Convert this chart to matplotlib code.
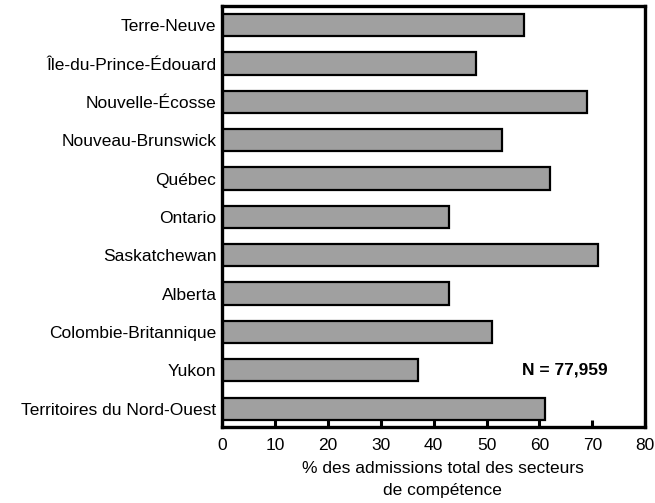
import matplotlib.pyplot as plt
import numpy as np

plt.rcParams["font.family"] = ["Liberation Sans", "DejaVu Sans"]

provinces = [
    "Terre-Neuve",
    "Île-du-Prince-Édouard",
    "Nouvelle-Écosse",
    "Nouveau-Brunswick",
    "Québec",
    "Ontario",
    "Saskatchewan",
    "Alberta",
    "Colombie-Britannique",
    "Yukon",
    "Territoires du Nord-Ouest",
]
pct_admissions = [57, 48, 69, 53, 62, 43, 71, 43, 51, 37, 61]
x_ticks = [0, 10, 20, 30, 40, 50, 60, 70, 80]
n_label = "N = 77,959"

fig = plt.figure(figsize=(6.55, 5.03), dpi=100)
ax = fig.add_axes([0.339, 0.151, 0.646, 0.837])

y = np.arange(len(provinces))
ax.barh(y, pct_admissions, height=0.58, color="#a0a0a0",
        edgecolor="black", linewidth=1.6)

ax.set_yticks(y)
ax.set_yticklabels(provinces, fontsize=12.5)
ax.set_ylim(10.48, -0.5)
ax.set_xlim(0, 80)
ax.set_xticks(x_ticks)
ax.set_xticklabels([str(t) for t in x_ticks], fontsize=12.5)

ax.tick_params(axis="y", length=0, pad=4)
ax.tick_params(axis="x", direction="in", length=5, width=2.2, pad=8)

for sp in ax.spines.values():
    sp.set_linewidth(2.4)

ax.set_xlabel("% des admissions total des secteurs\nde compétence",
              fontsize=12.5, linespacing=1.6)
ax.xaxis.set_label_coords(0.522, -0.08, transform=ax.transAxes)
ax.xaxis.label.set_verticalalignment("top")

ax.text(56.7, 9, n_label, fontsize=12.5, fontweight="bold", va="center", ha="left")

fig.savefig("out.png", dpi=100)
